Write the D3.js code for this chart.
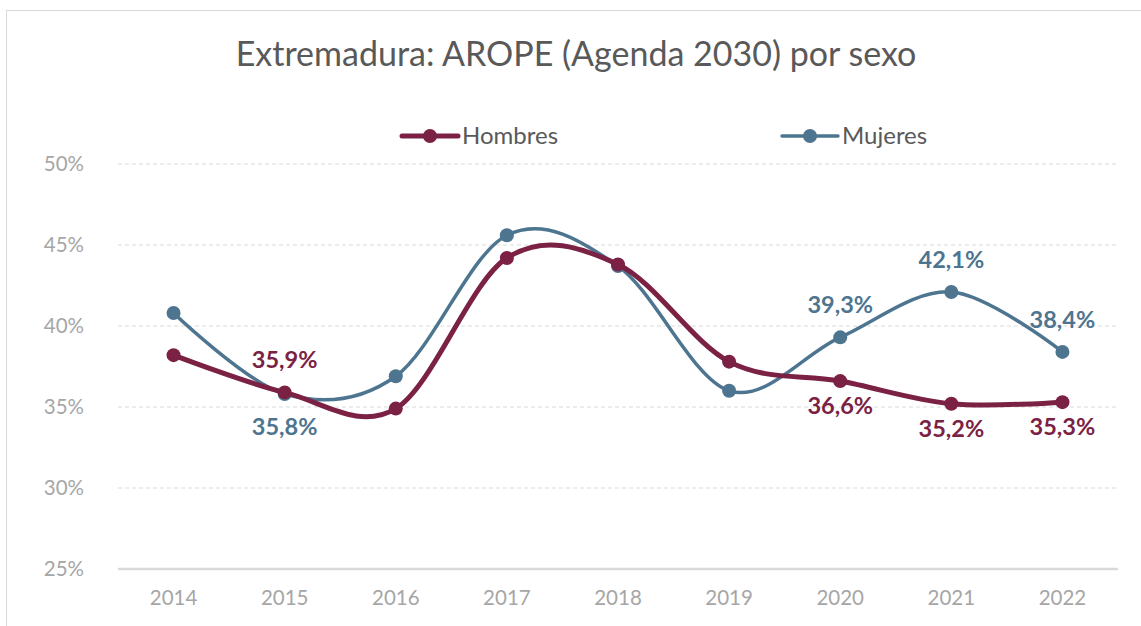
<!DOCTYPE html>
<html>
<head>
<meta charset="utf-8">
<script src="https://cdn.jsdelivr.net/npm/d3@7"></script>
<style>
  body { margin: 0; background: #fff; }
  svg text { font-family: Lato, "Open Sans", sans-serif; }
</style>
</head>
<body>
<script>
var years = ['2014', '2015', '2016', '2017', '2018', '2019', '2020', '2021', '2022'];
var hombres = [38.2, 35.9, 34.9, 44.2, 43.8, 37.8, 36.6, 35.2, 35.3];
var mujeres = [40.8, 35.8, 36.9, 45.6, 43.7, 36.0, 39.3, 42.1, 38.4];
var yTicks = [25, 30, 35, 40, 45, 50];
// which points carry a data label, and where
var hombresLabels = [null, 'above', null, null, null, null, 'below', 'below', 'below'];
var mujeresLabels = [null, 'farBelow', null, null, null, null, 'above', 'above', 'above'];

var width = 1141,
  height = 626;

var svg = d3.select('body').append('svg')
  .attr('width', width)
  .attr('height', height);

// chart frame
svg.append('rect')
  .attr('x', 6.5)
  .attr('y', 10.5)
  .attr('width', 1200)
  .attr('height', 700)
  .attr('fill', '#fff')
  .attr('stroke', '#d9d9d9')
  .attr('stroke-width', 1);

var x = d3.scaleBand()
  .domain(years)
  .range([118, 1118]);

var y = d3.scaleLinear()
  .domain([25, 50])
  .range([569, 164]);

// gridlines
svg.append('g')
  .selectAll('line')
  .data(yTicks.filter(d => d > 25))
  .enter().append('line')
  .attr('x1', 118)
  .attr('x2', 1118)
  .attr('y1', d => y(d))
  .attr('y2', d => y(d))
  .attr('stroke', '#d9d9d9')
  .attr('stroke-width', 1.2)
  .attr('stroke-dasharray', '4,3');

// x axis line
svg.append('line')
  .attr('x1', 118)
  .attr('x2', 1118)
  .attr('y1', y(25))
  .attr('y2', y(25))
  .attr('stroke', '#d9d9d9')
  .attr('stroke-width', 2.5);

// y axis labels
var yAxis = d3.axisLeft(y)
  .tickValues(yTicks)
  .tickSize(0)
  .tickPadding(0)
  .tickFormat(d => d + '%');

svg.append('g')
  .attr('transform', 'translate(84,0)')
  .call(yAxis)
  .call(g => g.select('.domain').remove())
  .selectAll('text')
  .attr('font-size', 20.5)
  .attr('fill', '#a6a6a6')
  .style('font-family', 'Lato, sans-serif');

// x axis labels
var xAxis = d3.axisBottom(x)
  .tickSize(0)
  .tickPadding(0);

svg.append('g')
  .attr('transform', 'translate(0,' + 590 + ')')
  .call(xAxis)
  .call(g => g.select('.domain').remove())
  .selectAll('text')
  .attr('font-size', 20.5)
  .attr('fill', '#a6a6a6')
  .style('font-family', 'Lato, sans-serif');

// title
svg.append('text')
  .attr('x', 576)
  .attr('y', 66)
  .attr('text-anchor', 'middle')
  .attr('font-size', 34)
  .attr('fill', '#595959')
  .text('Extremadura: AROPE (Agenda 2030) por sexo');

var line = d3.line()
  .x((d, i) => x(years[i]) + x.bandwidth() / 2)
  .y(d => y(d))
  .curve(d3.curveCardinal.tension(0));

var series = [
  { name: 'Hombres', values: hombres, labels: hombresLabels, color: '#7b2144', lw: 5, legendX: 402 },
  { name: 'Mujeres', values: mujeres, labels: mujeresLabels, color: '#4e7590', lw: 3.5, legendX: 782 }
];

var labelOffset = { above: -24, below: 33, farBelow: 41 };

series.slice().reverse().forEach(function(s) {
  var g = svg.append('g');
  g.append('path')
    .datum(s.values)
    .attr('fill', 'none')
    .attr('stroke', s.color)
    .attr('stroke-width', s.lw)
    .attr('stroke-linecap', 'round')
    .attr('d', line);

  g.selectAll('circle')
    .data(s.values)
    .enter().append('circle')
    .attr('cx', (d, i) => x(years[i]) + x.bandwidth() / 2)
    .attr('cy', d => y(d))
    .attr('r', 7)
    .attr('fill', s.color);
});

series.forEach(function(s) {
  svg.append('g')
    .selectAll('text')
    .data(s.values.map((v, i) => ({ v: v, i: i, pos: s.labels[i] })).filter(d => d.pos))
    .enter().append('text')
    .attr('x', d => x(years[d.i]) + x.bandwidth() / 2)
    .attr('y', d => y(d.v) + labelOffset[d.pos])
    .attr('text-anchor', 'middle')
    .attr('font-size', 23.5)
    .attr('font-weight', 'bold')
    .attr('fill', s.color)
    .text(d => d3.format('.1f')(d.v).replace('.', ',') + '%');

  // legend
  var lg = svg.append('g');
  lg.append('line')
    .attr('x1', s.legendX)
    .attr('x2', s.legendX + 56)
    .attr('y1', 136)
    .attr('y2', 136)
    .attr('stroke', s.color)
    .attr('stroke-width', s.lw)
    .attr('stroke-linecap', 'round');
  lg.append('circle')
    .attr('cx', s.legendX + 28)
    .attr('cy', 136)
    .attr('r', 7)
    .attr('fill', s.color);
  lg.append('text')
    .attr('x', s.legendX + 60)
    .attr('y', 144)
    .attr('font-size', 24)
    .attr('fill', '#595959')
    .text(s.name);
});
</script>
</body>
</html>
